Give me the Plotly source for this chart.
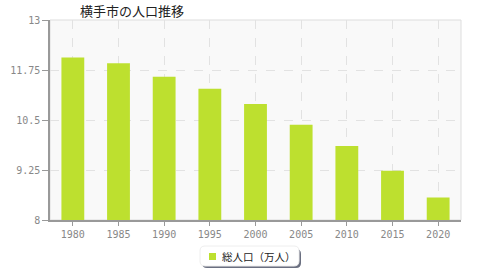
import plotly.graph_objects as go

years = ["1980", "1985", "1990", "1995", "2000", "2005", "2010", "2015", "2020"]
population = [12.06, 11.92, 11.58, 11.28, 10.90, 10.38, 9.85, 9.23, 8.56]
y_ticks = [8, 9.25, 10.5, 11.75, 13]
y_tick_labels = ["8", "9.25", "10.5", "11.75", "13"]
series_name = "総人口（万人）"
title_text = "横手市の人口推移"

bar_color = "#bde02f"
tick_font = dict(family="DejaVu Sans Mono, monospace", size=10, color="#888888")

fig = go.Figure()
fig.add_trace(go.Bar(x=years, y=population, width=0.5,
                     marker=dict(color=bar_color, line=dict(width=0)),
                     showlegend=False, name=series_name))

# legend box (rounded, with shadow), in paper coordinates
W, H = 411.0, 200.0
def px(x):
    return (x - 50) / W
def py(y):
    return (220 - y) / H
def rounded(x0, y0, x1, y1, r):
    return (f"M {px(x0+r)},{py(y0)} L {px(x1-r)},{py(y0)} Q {px(x1)},{py(y0)} {px(x1)},{py(y0+r)} "
            f"L {px(x1)},{py(y1-r)} Q {px(x1)},{py(y1)} {px(x1-r)},{py(y1)} "
            f"L {px(x0+r)},{py(y1)} Q {px(x0)},{py(y1)} {px(x0)},{py(y1-r)} "
            f"L {px(x0)},{py(y0+r)} Q {px(x0)},{py(y0)} {px(x0+r)},{py(y0)} Z")

shapes = [
    dict(type="rect", xref="paper", yref="paper", x0=0, x1=1, y0=0, y1=1,
         line=dict(color="#dddddd", width=1), fillcolor="rgba(0,0,0,0)", layer="below"),
    dict(type="path", xref="paper", yref="paper", path=rounded(202, 249, 301, 268, 5),
         fillcolor="#6a6f80", line=dict(width=0)),
    dict(type="path", xref="paper", yref="paper", path=rounded(200, 246, 299, 266, 5),
         fillcolor="#ffffff", line=dict(color="#eeeeee", width=1)),
    # legend swatch
    dict(type="rect", xref="paper", yref="paper", x0=px(209), x1=px(216), y0=py(260), y1=py(253),
         fillcolor=bar_color, line=dict(width=0)),
]

annotations = [
    dict(text=series_name, xref="paper", yref="paper", x=px(220), y=py(256.5),
         xanchor="left", yanchor="middle", showarrow=False,
         font=dict(family="Noto Sans CJK JP", size=10.5, color="#222222")),
]

fig.update_layout(
    width=480, height=280,
    margin=dict(l=50, r=19, t=20, b=60, autoexpand=False),
    paper_bgcolor="#ffffff",
    plot_bgcolor="#f9f9f9",
    title=dict(text=title_text, x=80/480, xanchor="left", y=1 - 11/280, yanchor="middle",
               font=dict(family="Noto Sans CJK JP", size=13, color="#222222")),
    showlegend=False,
    shapes=shapes,
    annotations=annotations,
    bargap=0.5,
)
fig.update_xaxes(type="category", showline=True, linecolor="#999999", linewidth=1.5,
                 ticks="outside", ticklen=4, tickcolor="#999999",
                 showgrid=True, gridcolor="#e2e2e2", griddash="dash", gridwidth=1,
                 tickfont=tick_font, fixedrange=True, automargin=False)
fig.update_yaxes(range=[8, 13], tickvals=y_ticks, ticktext=y_tick_labels,
                 showline=True, linecolor="#999999", linewidth=1.5,
                 ticks="outside", ticklen=6, tickcolor="#999999",
                 showgrid=True, gridcolor="#e2e2e2", griddash="dash", gridwidth=1,
                 zeroline=False, tickfont=tick_font, fixedrange=True, automargin=False)

fig.write_html("out.html")
